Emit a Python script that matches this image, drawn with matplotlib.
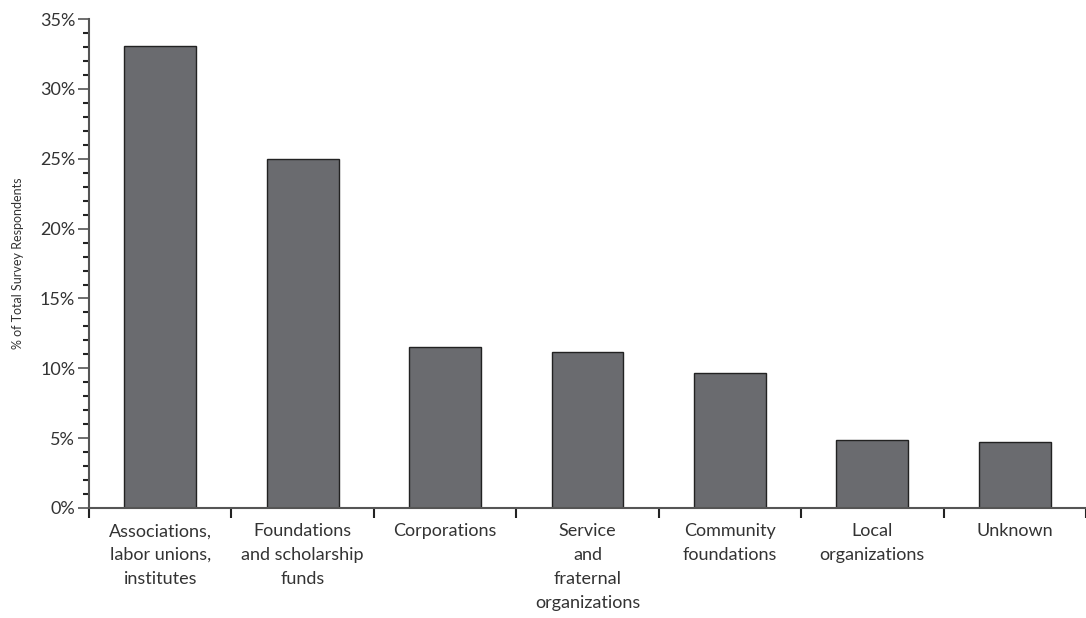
import matplotlib.pyplot as plt
from matplotlib.ticker import MultipleLocator, FuncFormatter

categories = ['Associations,\nlabor unions,\ninstitutes', 'Foundations\nand scholarship\nfunds',
              'Corporations', 'Service\nand\nfraternal\norganizations', 'Community\nfoundations',
              'Local\norganizations', 'Unknown']
values = [33.1, 25.0, 11.5, 11.2, 9.7, 4.85, 4.7]

plt.rcParams['font.family'] = ['Lato', 'DejaVu Sans']
text_color = '#333333'
axis_color = '#555555'

fig = plt.figure(figsize=(10.86, 6.18), dpi=100)
ax = fig.add_axes([0.082, 0.178, 0.918, 0.791])

x = list(range(len(categories)))
ax.bar(x, values, width=0.505, color='#6a6b6f', edgecolor='#222222', linewidth=1.0, zorder=2)

ax.set_xlim(-0.5, 6.46)
ax.set_ylim(0, 35)

for s in ['top', 'right']:
    ax.spines[s].set_visible(False)
for s in ['left', 'bottom']:
    ax.spines[s].set_color(axis_color)
    ax.spines[s].set_linewidth(1.5)

ax.yaxis.set_major_locator(MultipleLocator(5))
ax.yaxis.set_minor_locator(MultipleLocator(1))
ax.yaxis.set_major_formatter(FuncFormatter(lambda v, p: f'{v:.0f}%'))
ax.tick_params(axis='y', which='major', length=8, width=1.2, color=axis_color,
               labelsize=13, labelcolor=text_color, pad=2)
ax.tick_params(axis='y', which='minor', length=4, width=1.5, color='#222222')

# category boundary ticks below the axis, labels centred on bars
ax.set_xticks([i - 0.5 for i in range(len(categories) + 1)])
ax.set_xticklabels([])
ax.set_xticks(x, minor=True)
ax.set_xticklabels(categories, minor=True)
ax.tick_params(axis='x', which='major', length=7, width=1.5, color='#222222', direction='out')
ax.tick_params(axis='x', which='minor', length=0, labelsize=13, labelcolor=text_color, pad=11)
for lbl in ax.get_xticklabels(minor=True):
    lbl.set_linespacing(1.6)

ax.set_ylabel('% of Total Survey Respondents', fontsize=9, color=text_color)
ax.yaxis.set_label_coords(-0.065, 0.5)

fig.savefig('out.png', dpi=100)
